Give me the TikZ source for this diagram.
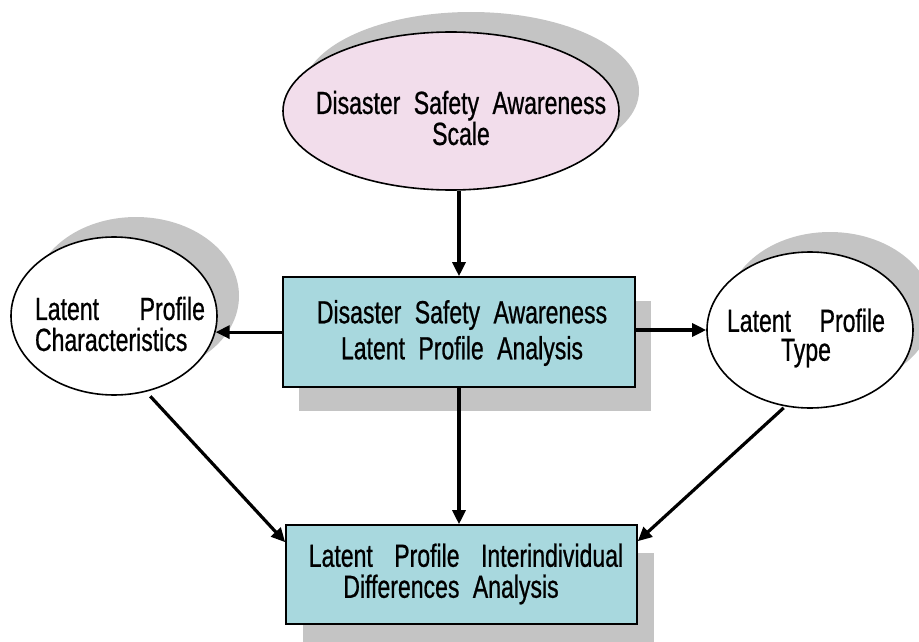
\documentclass[tikz,border=0pt]{standalone}
\usepackage{fontspec}
\setmainfont[FakeStretch=0.72,FakeBold=0.7,WordSpace=2.1]{Liberation Sans}
\usetikzlibrary{shapes.geometric,arrows.meta,calc}
\definecolor{pinkfill}{HTML}{F2DDEB}
\definecolor{boxfill}{HTML}{A8D8DE}
\definecolor{shadowgray}{HTML}{C4C4C4}
\begin{document}
\begin{tikzpicture}[x=1pt,y=-1pt,
  oval/.style={ellipse,draw=black,line width=1.6pt,inner sep=0pt},
  ovalshadow/.style={ellipse,fill=shadowgray,inner sep=0pt,draw=none},
  boxnode/.style={rectangle,draw=black,line width=1.6pt,fill=boxfill,inner sep=0pt},
  boxshadow/.style={rectangle,fill=shadowgray,draw=none,inner sep=0pt},
  lbl/.style={inner sep=0pt,text=black},
  arr/.style={line width=3.2pt,-{Triangle[length=14pt,width=13pt]}}]
\useasboundingbox (0,0) rectangle (919,642);
% shadows
\node[ovalshadow,minimum width=336pt,minimum height=158pt] (topS) at (471,91) {};
\node[ovalshadow,minimum width=206pt,minimum height=158pt] (leftS) at (136,296) {};
\node[ovalshadow,minimum width=206pt,minimum height=156pt] (rightS) at (830,310) {};
\node[boxshadow,minimum width=352pt,minimum height=110pt] (midS) at (475,356) {};
\node[boxshadow,minimum width=351pt,minimum height=99pt] (botS) at (478.5,602.5) {};
% shapes
\node[oval,fill=pinkfill,minimum width=336pt,minimum height=158pt] (top) at (451,111) {};
\node[oval,fill=white,minimum width=206pt,minimum height=158pt] (left) at (114,316) {};
\node[oval,fill=white,minimum width=206pt,minimum height=156pt] (right) at (810,330) {};
\node[boxnode,minimum width=352pt,minimum height=110pt] (mid) at (459,332) {};
\node[boxnode,minimum width=351pt,minimum height=99pt] (bot) at (461.5,574.5) {};
% labels
\node[lbl,align=center,font=\fontsize{32}{31}\selectfont] (topT) at (461,118) {Disaster Safety Awareness\\Scale};
\node[lbl,align=left,font=\fontsize{32}{31}\selectfont] (leftT) at (120,324) {\hbox to 170pt{Latent\hfill Profile}\\Characteristics};
\node[lbl,align=center,font=\fontsize{32}{29}\selectfont] (rightT) at (806,338) {\hbox to 158pt{Latent\hfill Profile}\\Type};
\node[lbl,align=center,font=\fontsize{32}{36}\selectfont] (midT) at (462,333) {Disaster Safety Awareness\\Latent Profile Analysis};
\node[lbl,align=center,font=\fontsize{32}{31}\selectfont] (botT) at (466,574) {Latent\hspace{8pt} Profile\hspace{8pt} Interindividual\\Differences Analysis\hspace*{30pt}};
% connectors
\draw[arr] (top.south -| mid.north) -- (mid.north);
\draw[arr] (left.-9.6 -| mid.west) -- (left.-9.6);
\draw[arr] (right.west -| mid.east) -- (right.west);
\draw[arr] (mid.south) -- (mid.south |- bot.north);
\coordinate (botL) at ($(bot.north west)+(0,18)$);
\coordinate (botR) at ($(bot.north east)+(0,17)$);
\draw[arr,shorten <=6pt] (left.-67) -- (botL);
\draw[arr,shorten <=2pt] (right.-108) -- (botR);
\end{tikzpicture}
\end{document}
